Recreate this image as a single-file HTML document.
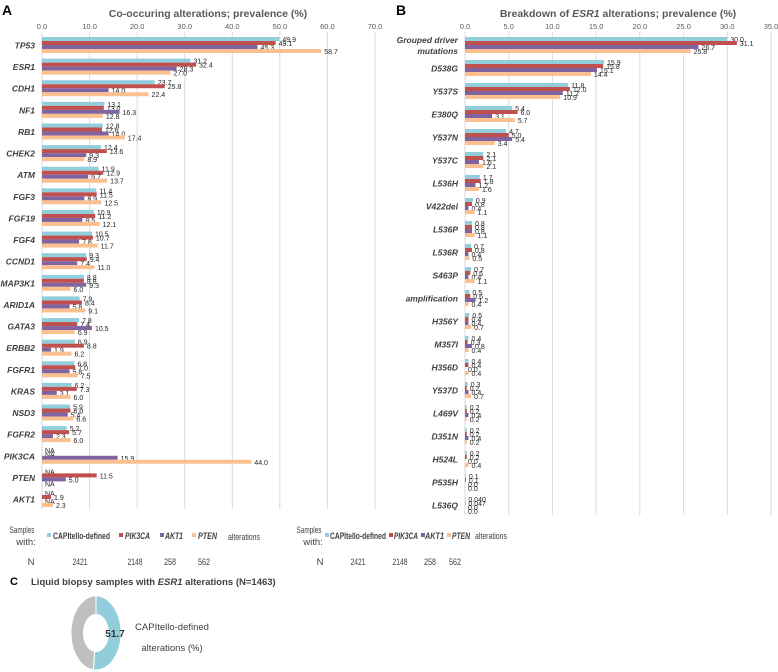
<!DOCTYPE html>
<html><head><meta charset="utf-8"><style>
body{margin:0;background:#fff;}
svg{display:block;font-family:"Liberation Sans",sans-serif;}
</style></head><body>
<svg id="s" width="778" height="672" viewBox="0 0 778 672">
<text x="2" y="15" font-size="14" font-weight="bold" fill="#000">A</text>
<text x="208" y="17" font-size="10.5" font-weight="bold" fill="#595959" text-anchor="middle">Co-occuring alterations; prevalence (%)</text>
<text x="396" y="15" font-size="14" font-weight="bold" fill="#000">B</text>
<text x="618" y="17" font-size="10.5" font-weight="bold" fill="#595959" text-anchor="middle">Breakdown of <tspan font-style="italic">ESR1</tspan> alterations; prevalence (%)</text>
<g id="ga"></g>
<g id="gb"></g>

<g font-size="9.5" fill="#404040">
<text x="22" y="533" text-anchor="middle" textLength="25" lengthAdjust="spacingAndGlyphs">Samples</text>
<text x="26" y="545" text-anchor="middle">with:</text>
<rect x="47" y="533" width="4" height="4" fill="#92cddc"/>
<text x="53" y="539" font-weight="bold" textLength="57" lengthAdjust="spacingAndGlyphs">CAPItello-defined</text>
<rect x="119" y="533" width="4" height="4" fill="#c0504d"/>
<text x="125" y="539" font-weight="bold" font-style="italic" textLength="25" lengthAdjust="spacingAndGlyphs">PIK3CA</text>
<rect x="160" y="533" width="4" height="4" fill="#8064a2"/>
<text x="165" y="539" font-weight="bold" font-style="italic" textLength="18" lengthAdjust="spacingAndGlyphs">AKT1</text>
<rect x="192" y="533" width="4" height="4" fill="#fac08f"/>
<text x="198" y="539" font-weight="bold" font-style="italic" textLength="19" lengthAdjust="spacingAndGlyphs">PTEN</text>
<text x="228" y="540" textLength="32" lengthAdjust="spacingAndGlyphs">alterations</text>
<text x="31" y="565" text-anchor="middle">N</text>
<text x="80" y="565" text-anchor="middle" textLength="15" lengthAdjust="spacingAndGlyphs">2421</text>
<text x="135" y="565" text-anchor="middle" textLength="15" lengthAdjust="spacingAndGlyphs">2148</text>
<text x="170" y="565" text-anchor="middle" textLength="12" lengthAdjust="spacingAndGlyphs">258</text>
<text x="204" y="565" text-anchor="middle" textLength="12" lengthAdjust="spacingAndGlyphs">562</text>
</g>
<g font-size="9.5" fill="#404040">
<text x="309" y="533" text-anchor="middle" textLength="25" lengthAdjust="spacingAndGlyphs">Samples</text>
<text x="313" y="545" text-anchor="middle">with:</text>
<rect x="325" y="533" width="4" height="4" fill="#92cddc"/>
<text x="330" y="539" font-weight="bold" textLength="56" lengthAdjust="spacingAndGlyphs">CAPItello-defined</text>
<rect x="389" y="533" width="4" height="4" fill="#c0504d"/>
<text x="394" y="539" font-weight="bold" font-style="italic" textLength="24" lengthAdjust="spacingAndGlyphs">PIK3CA</text>
<rect x="421" y="533" width="4" height="4" fill="#8064a2"/>
<text x="425" y="539" font-weight="bold" font-style="italic" textLength="19" lengthAdjust="spacingAndGlyphs">AKT1</text>
<rect x="447" y="533" width="4" height="4" fill="#fac08f"/>
<text x="452" y="539" font-weight="bold" font-style="italic" textLength="18" lengthAdjust="spacingAndGlyphs">PTEN</text>
<text x="475" y="539" textLength="32" lengthAdjust="spacingAndGlyphs">alterations</text>
<text x="320" y="565" text-anchor="middle">N</text>
<text x="358" y="565" text-anchor="middle" textLength="15" lengthAdjust="spacingAndGlyphs">2421</text>
<text x="400" y="565" text-anchor="middle" textLength="15" lengthAdjust="spacingAndGlyphs">2148</text>
<text x="430" y="565" text-anchor="middle" textLength="12" lengthAdjust="spacingAndGlyphs">258</text>
<text x="455" y="565" text-anchor="middle" textLength="12" lengthAdjust="spacingAndGlyphs">562</text>
</g>

<text x="10" y="585" font-size="11" font-weight="bold" fill="#000">C</text>
<text x="31" y="585" font-size="9.5" font-weight="bold" fill="#404040">Liquid biopsy samples with <tspan font-style="italic">ESR1</tspan> alterations (N=1463)</text>
<g id="gc"></g>
<text x="115" y="637" font-size="10" font-weight="bold" fill="#333" text-anchor="middle">51.7</text>
<text x="172" y="630" font-size="9.5" fill="#404040" text-anchor="middle">CAPItello-defined</text>
<text x="172" y="651" font-size="9.5" fill="#404040" text-anchor="middle">alterations (%)</text>
</svg>
<script>
const colors=["#92cddc","#c0504d","#8064a2","#fac08f"];
const catsA=["TP53","ESR1","CDH1","NF1","RB1","CHEK2","ATM","FGF3","FGF19","FGF4","CCND1","MAP3K1","ARID1A","GATA3","ERBB2","FGFR1","KRAS","NSD3","FGFR2","PIK3CA","PTEN","AKT1"];
const capA=[49.9,31.2,23.7,13.1,12.8,12.4,11.9,11.4,10.9,10.5,9.3,8.8,7.9,7.8,6.9,6.8,6.2,5.9,5.2,null,null,null];
const pikA=[49.1,32.4,25.8,13.0,12.6,13.6,12.9,11.5,11.2,10.7,9.4,8.8,8.4,7.4,8.8,7.0,7.3,6.0,5.7,null,11.5,1.9];
const aktA=[45.3,28.3,14.0,16.3,14.0,9.3,9.7,8.9,8.5,7.8,7.4,9.3,5.8,10.5,1.9,5.8,3.1,5.4,2.3,15.9,5.0,null];
const ptenA=[58.7,27.0,22.4,12.8,17.4,8.9,13.7,12.5,12.1,11.7,11.0,6.0,9.1,6.9,6.2,7.5,6.0,6.6,6.0,44.0,null,2.3];
const ticksA=[0,10,20,30,40,50,60,70];
const catsB=["Grouped driver|mutations","D538G","Y537S","E380Q","Y537N","Y537C","L536H","V422del","L536P","L536R","S463P","amplification","H356Y","M357I","H356D","Y537D","L469V","D351N","H524L","P535H","L536Q"];
const capB=[30.0,15.9,11.8,5.4,4.7,2.1,1.7,0.9,0.8,0.7,0.7,0.5,0.5,0.4,0.4,0.3,0.2,0.2,0.2,0.1,0.040];
const pikB=[31.1,15.8,12.0,6.0,5.0,2.1,1.8,0.8,0.8,0.8,0.6,0.6,0.4,0.3,0.4,0.2,0.2,0.2,0.2,0.1,0.047];
const aktB=[26.7,15.1,11.2,3.1,5.4,1.6,1.2,0.4,0.8,0.4,0.4,1.2,0.4,0.8,0.0,0.4,0.4,0.4,0.0,0.0,0.0];
const ptenB=[25.8,14.4,10.9,5.7,3.4,2.1,1.6,1.1,1.1,0.5,1.1,0.4,0.7,0.4,0.4,0.7,0.2,0.2,0.4,0.0,0.0];
const ticksB=[0,5,10,15,20,25,30,35];
const donutVals=[51.7,48.3];
const NS="http://www.w3.org/2000/svg";
function mk(p,t,a){const e=document.createElementNS(NS,t);for(const k in a)e.setAttribute(k,a[k]);p.appendChild(e);return e;}
function fmt(v,d){return v.toFixed(d);}
function panel(g,cats,series,ticks,x0,x1,maxV,yTop,yBot,labelX,dec,prefix){
  const xs=v=>x0+(v/maxV)*(x1-x0);
  const n=cats.length,step=(yBot-yTop)/(n-1);
  const ys=i=>yTop+i*step;
  ticks.forEach(t=>{
    const l=mk(g,"line",{x1:xs(t),x2:xs(t),y1:32,y2:yBot+10,stroke:"#d9d9d9","stroke-width":1});
    
    
    const tx=mk(g,"text",{x:xs(t),y:29,"font-size":7.5,fill:"#595959","text-anchor":"middle"});
    tx.textContent=t.toFixed(1);
    
    
  });
  cats.forEach((c,i)=>{
    const cy=ys(i);
    const parts=c.split("|");
    parts.forEach((p,k)=>{
      const t=mk(g,"text",{x:labelX,y:cy+3.5+(k-(parts.length-1)/2)*11,"font-size":8.5,"font-weight":"bold","font-style":"italic",fill:"#404040","text-anchor":"end"});
      t.textContent=p;
      
      
    });
    series.forEach((s,j)=>{
      const v=s[i];const by=cy-8+j*4;
      if(v!==null){
        const r=mk(g,"rect",{x:x0,y:by,width:Math.max(0,xs(v)-x0),height:4,fill:colors[j]});
        
        
      }
      const lt=mk(g,"text",{x:(v===null?x0:xs(v))+3,y:by+5,"font-size":7,fill:"#262626"});
      lt.textContent=v===null?"NA":(dec&&v>0&&v<0.1?v.toFixed(3):fmt(v,1));
      
      
    });
  });
}
panel(document.getElementById("ga"),catsA,[capA,pikA,aktA,ptenA],ticksA,42,375,70,45,499,35,false,"panel-a");
panel(document.getElementById("gb"),catsB,[capB,pikB,aktB,ptenB],ticksB,465,771,35,45,505,458,true,"panel-b");
(function(){
  const g=document.getElementById("gc");
  const cx=96,cy=633,rx=25,ry=37,irx=12.5,iry=18.5;
  const tot=donutVals.reduce((a,b)=>a+b,0);
  const cols=["#92cddc","#bfbfbf"];
  let a0=-Math.PI/2;
  donutVals.forEach((v,i)=>{
    const a1=a0+v/tot*2*Math.PI;const lg=(a1-a0)>Math.PI?1:0;
    const P=(r1,r2,a)=>[cx+r1*Math.cos(a),cy+r2*Math.sin(a)];
    const [x1,y1]=P(rx,ry,a0),[x2,y2]=P(rx,ry,a1),[x3,y3]=P(irx,iry,a1),[x4,y4]=P(irx,iry,a0);
    const p=mk(g,"path",{d:`M${x1},${y1}A${rx},${ry} 0 ${lg} 1 ${x2},${y2}L${x3},${y3}A${irx},${iry} 0 ${lg} 0 ${x4},${y4}Z`,fill:cols[i],stroke:"#fff","stroke-width":1});
    
    
    a0=a1;
  });
})();
</script>
</body></html>
